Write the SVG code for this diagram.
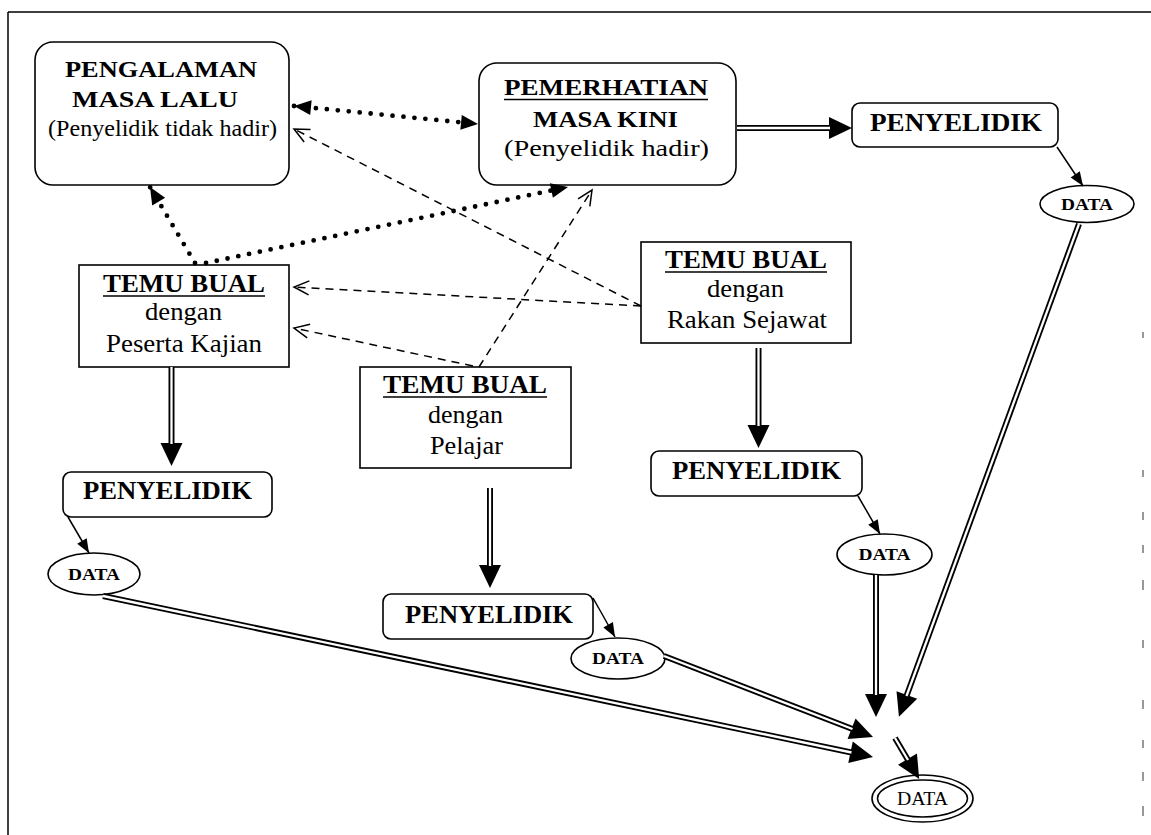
<svg xmlns="http://www.w3.org/2000/svg" width="1151" height="835" viewBox="0 0 1151 835" font-family="'Liberation Serif', 'Times New Roman', serif">
<style>
.box{fill:#fff;stroke:#000;stroke-width:1.6}
.t{font-family:'Liberation Serif','Times New Roman',serif;fill:#000}
.b{font-weight:bold}
.ul{stroke:#000;stroke-width:1.7}
.thin{stroke:#000;stroke-width:1.5;fill:none;marker-end:url(#ah)}
.dbl{stroke:#000;stroke-width:6;fill:none;marker-end:url(#big)}
.dbin{stroke:#fff;stroke-width:2.3;fill:none}
.dash{stroke:#000;stroke-width:1.5;stroke-dasharray:8 6;fill:none;marker-end:url(#open)}
.dot{stroke:#000;stroke-width:4.8;stroke-linecap:round;stroke-dasharray:0 11;fill:none;marker-end:url(#dh)}
.mark{stroke:#777;stroke-width:1.5}
</style>
<defs>
<marker id="ah" markerUnits="userSpaceOnUse" overflow="visible" refX="0" refY="0" orient="auto"><path d="M-14,-5.5 L0,0 L-14,5.5 z" fill="#000"/></marker>
<marker id="big" markerUnits="userSpaceOnUse" overflow="visible" refX="0" refY="0" orient="auto"><path d="M-1,-11 L22,0 L-1,11 z" fill="#000"/></marker>
<marker id="dh" markerUnits="userSpaceOnUse" overflow="visible" refX="0" refY="0" orient="auto-start-reverse"><path d="M-17,-7.5 L0,0 L-17,7.5 z" fill="#000"/></marker>
<marker id="open" markerUnits="userSpaceOnUse" overflow="visible" refX="0" refY="0" orient="auto"><path d="M-15,-7 L0,0 L-15,7" fill="none" stroke="#000" stroke-width="1.5"/></marker>
</defs>
<rect width="1151" height="835" fill="#fff"/>
<g id="frame">
<path d="M8,12 H1151 M8,12 V835" stroke="#000" stroke-width="1.5" fill="none"/>
<path class="mark" d="M1143,332 v6 M1143,470 v7 M1143,512 v8 M1143,545 v8 M1143,580 v10 M1143,640 v8 M1143,700 v9 M1143,740 v8 M1143,772 v9 M1143,806 v10"/>
</g>
<g id="pengalaman">
<rect class="box" x="35" y="42" width="254" height="143" rx="18"/>
<text class="t b" x="65" y="77" font-size="23" textLength="192" lengthAdjust="spacingAndGlyphs">PENGALAMAN</text>
<text class="t b" x="72" y="107" font-size="23" textLength="166" lengthAdjust="spacingAndGlyphs">MASA LALU</text>
<text class="t" x="48" y="136" font-size="23" textLength="229" lengthAdjust="spacingAndGlyphs">(Penyelidik tidak hadir)</text>
</g>
<g id="pemerhatian">
<rect class="box" x="479" y="63" width="257" height="122" rx="18"/>
<text class="t b" x="504" y="95" font-size="24" textLength="204" lengthAdjust="spacingAndGlyphs">PEMERHATIAN</text>
<line class="ul" x1="504" y1="99.5" x2="708" y2="99.5"/>
<text class="t b" x="533" y="127" font-size="24" textLength="145" lengthAdjust="spacingAndGlyphs">MASA KINI</text>
<text class="t" x="504" y="156" font-size="24" textLength="205" lengthAdjust="spacingAndGlyphs">(Penyelidik hadir)</text>
</g>
<g id="penyelidik-tr">
<rect class="box" x="852" y="103" width="206" height="44" rx="8"/>
<text class="t b" x="870" y="131" font-size="25" textLength="172" lengthAdjust="spacingAndGlyphs">PENYELIDIK</text>
</g>
<g id="data-tr">
<ellipse class="box" cx="1087" cy="204" rx="47" ry="18.5"/>
<text class="t b" x="1061" y="210" font-size="17" textLength="52" lengthAdjust="spacingAndGlyphs">DATA</text>
</g>
<g id="temu-peserta">
<rect class="box" x="79" y="265" width="210" height="102"/>
<text class="t b" x="103" y="292" font-size="26" textLength="162" lengthAdjust="spacingAndGlyphs">TEMU BUAL</text>
<line class="ul" x1="103" y1="296" x2="265" y2="296"/>
<text class="t" x="145" y="320" font-size="26" textLength="77" lengthAdjust="spacingAndGlyphs">dengan</text>
<text class="t" x="106" y="352" font-size="26" textLength="156" lengthAdjust="spacingAndGlyphs">Peserta Kajian</text>
</g>
<g id="temu-pelajar">
<rect class="box" x="360" y="367" width="211" height="101"/>
<text class="t b" x="383" y="393" font-size="26" textLength="164" lengthAdjust="spacingAndGlyphs">TEMU BUAL</text>
<line class="ul" x1="383" y1="397" x2="547" y2="397"/>
<text class="t" x="428" y="423" font-size="26" textLength="75" lengthAdjust="spacingAndGlyphs">dengan</text>
<text class="t" x="430" y="454" font-size="26" textLength="73" lengthAdjust="spacingAndGlyphs">Pelajar</text>
</g>
<g id="temu-rakan">
<rect class="box" x="641" y="242" width="210" height="101"/>
<text class="t b" x="665" y="268" font-size="26" textLength="162" lengthAdjust="spacingAndGlyphs">TEMU BUAL</text>
<line class="ul" x1="665" y1="272" x2="827" y2="272"/>
<text class="t" x="707" y="297" font-size="26" textLength="77" lengthAdjust="spacingAndGlyphs">dengan</text>
<text class="t" x="667" y="328" font-size="26" textLength="160" lengthAdjust="spacingAndGlyphs">Rakan Sejawat</text>
</g>
<g id="penyelidik-l">
<rect class="box" x="63" y="472" width="209" height="45" rx="8"/>
<text class="t b" x="83" y="499" font-size="25" textLength="169" lengthAdjust="spacingAndGlyphs">PENYELIDIK</text>
</g>
<g id="penyelidik-m">
<rect class="box" x="383" y="594" width="210" height="45" rx="8"/>
<text class="t b" x="405" y="623" font-size="25" textLength="168" lengthAdjust="spacingAndGlyphs">PENYELIDIK</text>
</g>
<g id="penyelidik-mr">
<rect class="box" x="651" y="451" width="211" height="45" rx="8"/>
<text class="t b" x="672" y="479" font-size="25" textLength="169" lengthAdjust="spacingAndGlyphs">PENYELIDIK</text>
</g>
<g id="data-l">
<ellipse class="box" cx="94" cy="574" rx="46" ry="21"/>
<text class="t b" x="68" y="580" font-size="17" textLength="52" lengthAdjust="spacingAndGlyphs">DATA</text>
</g>
<g id="data-m">
<ellipse class="box" cx="618" cy="658.5" rx="47" ry="20.5"/>
<text class="t b" x="592" y="664" font-size="17" textLength="52" lengthAdjust="spacingAndGlyphs">DATA</text>
</g>
<g id="data-mr">
<ellipse class="box" cx="884.5" cy="554.5" rx="47.5" ry="20.5"/>
<text class="t b" x="858.5" y="560" font-size="17" textLength="52" lengthAdjust="spacingAndGlyphs">DATA</text>
</g>
<g id="data-final">
<ellipse class="box" cx="922.5" cy="798.5" rx="50.5" ry="23.5"/>
<ellipse class="box" cx="922.5" cy="798.5" rx="45" ry="18.5"/>
<text class="t" x="897" y="805" font-size="18" textLength="51" lengthAdjust="spacingAndGlyphs">DATA</text>
</g>
<g id="connectors">
<path class="dot" d="M294,106 L478,124" marker-start="url(#dh)"/>
<path class="dot" d="M195,263 L150,187"/>
<path class="dot" d="M206,263 L568,187"/>
<path class="dash" d="M641,306 L294,129"/>
<path class="dash" d="M641,306 L294,287"/>
<path class="dash" d="M473,366 L294,328"/>
<path class="dash" d="M479,367 L592,190"/>
<path class="thin" d="M1057,147 L1083,186"/>
<path class="thin" d="M68,517 L89,553"/>
<path class="thin" d="M593,598 L615,637"/>
<path class="thin" d="M858,496 L880,534"/>
<path class="dbl" d="M737,128 L830,128"/>
<path class="dbin" d="M737,128 L830,128"/>
<path class="dbl" d="M171.5,367 L171.5,444"/>
<path class="dbin" d="M171.5,367 L171.5,444"/>
<path class="dbl" d="M490,488 L490,566"/>
<path class="dbin" d="M490,488 L490,566"/>
<path class="dbl" d="M758.5,348 L758.5,426"/>
<path class="dbin" d="M758.5,348 L758.5,426"/>
<path class="dbl" d="M103,596 L851.5,752.5"/>
<path class="dbin" d="M103,596 L851.5,752.5"/>
<path class="dbl" d="M664,656 L852.5,729"/>
<path class="dbin" d="M664,656 L852.5,729"/>
<path class="dbl" d="M876,575 L876,695"/>
<path class="dbin" d="M876,575 L876,695"/>
<path class="dbl" d="M1079,224 L906.5,696"/>
<path class="dbin" d="M1079,224 L906.5,696"/>
<path class="dbl" d="M895,738 L908,760"/>
<path class="dbin" d="M895,738 L908,760"/>
</g>
</svg>
